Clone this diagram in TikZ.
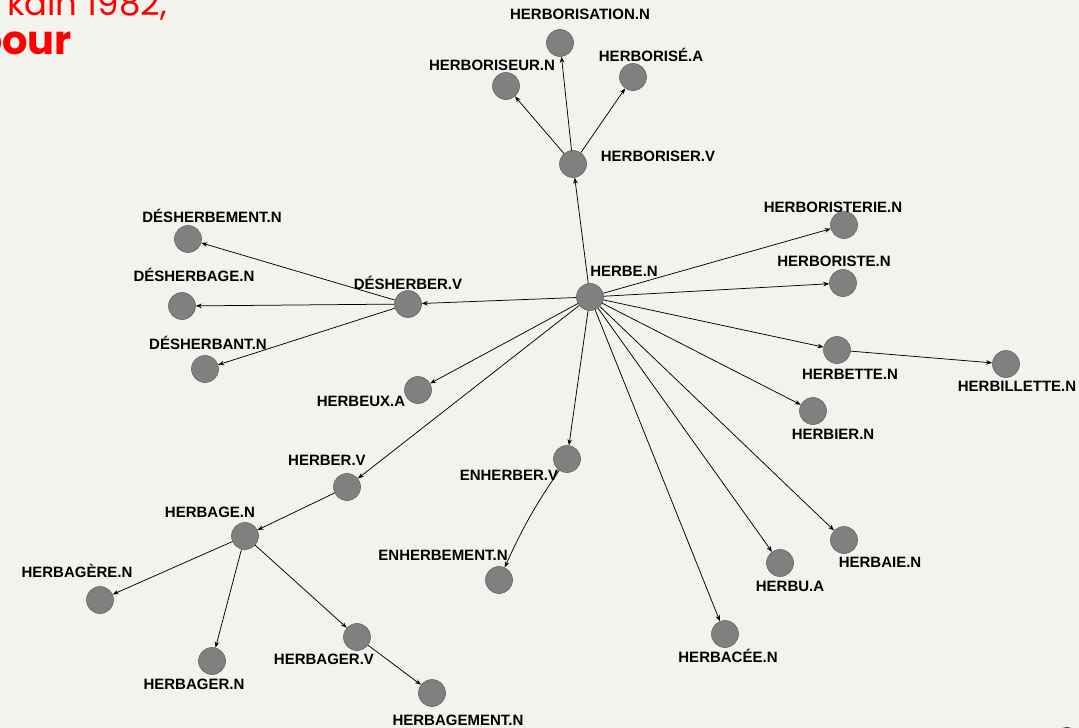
\documentclass[tikz,border=0pt]{standalone}
\usepackage{fontspec}
\setmainfont{Liberation Sans}
\newfontfamily\titolofont{Poppins}
\usetikzlibrary{arrows.meta}
\definecolor{sfondo}{RGB}{243,243,238}
\definecolor{grigionodo}{RGB}{128,128,128}
\definecolor{grigiobordo}{RGB}{100,100,100}
\definecolor{rosso}{RGB}{255,0,0}
\definecolor{blu}{RGB}{40,50,110}
\begin{document}
\begin{tikzpicture}[x=1pt, y=-1pt,
	nodo/.style={circle, fill=grigionodo, draw=grigiobordo, line width=0.6pt, minimum size=27pt, inner sep=0pt},
	etichetta/.style={font=\bfseries\fontsize{15}{17}\selectfont, inner sep=0pt},
	freccia/.style={-{Stealth[length=6pt,width=4.5pt]}, line width=0.75pt}]
		% sfondo e titolo tagliato
		\fill[sfondo] (0,0) rectangle (1079,728);
		\useasboundingbox (0,0) rectangle (1079,728);
		\node[anchor=base east, text=rosso, inner sep=0pt, font=\titolofont\fontsize{34}{40}\selectfont] (titolo) at (167,15) {kdin 1982,};
		\node[anchor=base east, text=rosso, inner sep=0pt, font=\titolofont\bfseries\fontsize{40}{44}\selectfont] (pour) at (72,54) {pour};
		\fill[blu] (1067,736) circle (9);
		% nodi
		\node[nodo] (herbe) at (590,297) {};
		\node[nodo] (herboriser) at (573,164) {};
		\node[nodo] (herborisation) at (560,43) {};
		\node[nodo] (herboriseur) at (506,86) {};
		\node[nodo] (herborise) at (633,77) {};
		\node[nodo] (desherber) at (408,304) {};
		\node[nodo] (desherbement) at (188,239) {};
		\node[nodo] (desherbage) at (182,306) {};
		\node[nodo] (desherbant) at (205,369) {};
		\node[nodo] (herbeux) at (418,390) {};
		\node[nodo] (herber) at (347,487) {};
		\node[nodo] (herbage) at (245,536) {};
		\node[nodo] (herbagere) at (100,600) {};
		\node[nodo] (herbagern) at (212,661) {};
		\node[nodo] (herbagerv) at (357,637) {};
		\node[nodo] (herbagement) at (432,693) {};
		\node[nodo] (enherber) at (567,459) {};
		\node[nodo] (enherbement) at (499,580) {};
		\node[nodo] (herbacee) at (725,634) {};
		\node[nodo] (herbu) at (780,563) {};
		\node[nodo] (herbaie) at (844,540) {};
		\node[nodo] (herbier) at (813,411) {};
		\node[nodo] (herbette) at (837,350) {};
		\node[nodo] (herbillette) at (1006,364) {};
		\node[nodo] (herboriste) at (843,283) {};
		\node[nodo] (herboristerie) at (844,225) {};
		% etichette
		\node[etichetta] (l-herbe) at (624,271) {HERBE.N};
		\node[etichetta] (l-herboriser) at (658,156) {HERBORISER.V};
		\node[etichetta] (l-herborisation) at (580,14) {HERBORISATION.N};
		\node[etichetta] (l-herboriseur) at (492,65) {HERBORISEUR.N};
		\node[etichetta] (l-herborise) at (651,55) {HERBORISÉ.A};
		\node[etichetta] (l-desherber) at (408,283) {DÉSHERBER.V};
		\node[etichetta] (l-desherbement) at (212,216) {DÉSHERBEMENT.N};
		\node[etichetta] (l-desherbage) at (194,275) {DÉSHERBAGE.N};
		\node[etichetta] (l-desherbant) at (208,343) {DÉSHERBANT.N};
		\node[etichetta] (l-herbeux) at (361,401) {HERBEUX.A};
		\node[etichetta] (l-herber) at (327,460) {HERBER.V};
		\node[etichetta] (l-herbage) at (210,512) {HERBAGE.N};
		\node[etichetta] (l-herbagere) at (77,571) {HERBAGÈRE.N};
		\node[etichetta] (l-herbagern) at (194,684) {HERBAGER.N};
		\node[etichetta] (l-herbagerv) at (324,659) {HERBAGER.V};
		\node[etichetta] (l-herbagement) at (458,720) {HERBAGEMENT.N};
		\node[etichetta] (l-enherber) at (509,475) {ENHERBER.V};
		\node[etichetta] (l-enherbement) at (443,555) {ENHERBEMENT.N};
		\node[etichetta] (l-herbacee) at (728,656) {HERBACÉE.N};
		\node[etichetta] (l-herbu) at (790,586) {HERBU.A};
		\node[etichetta] (l-herbaie) at (880,562) {HERBAIE.N};
		\node[etichetta] (l-herbier) at (833,434) {HERBIER.N};
		\node[etichetta] (l-herbette) at (850,374) {HERBETTE.N};
		\node[etichetta] (l-herbillette) at (1017,386) {HERBILLETTE.N};
		\node[etichetta] (l-herboriste) at (834,261) {HERBORISTE.N};
		\node[etichetta] (l-herboristerie) at (833,207) {HERBORISTERIE.N};
		% archi da HERBE.N
		\draw[freccia] (herbe) -- (herboriser);
		\draw[freccia] (herbe) -- (desherber);
		\draw[freccia] (herbe) -- (herbeux);
		\draw[freccia] (herbe) -- (herber);
		\draw[freccia] (herbe) -- (enherber);
		\draw[freccia] (herbe) -- (herbacee);
		\draw[freccia] (herbe) -- (herbu);
		\draw[freccia] (herbe) -- (herbaie);
		\draw[freccia] (herbe) -- (herbier);
		\draw[freccia] (herbe) -- (herbette);
		\draw[freccia] (herbe) -- (herboriste);
		\draw[freccia] (herbe) -- (herboristerie);
		% archi secondari
		\draw[freccia] (herboriser) -- (herborisation);
		\draw[freccia] (herboriser) -- (herboriseur);
		\draw[freccia] (herboriser) -- (herborise);
		\draw[freccia] (desherber) -- (desherbement);
		\draw[freccia] (desherber) -- (desherbage);
		\draw[freccia] (desherber) -- (desherbant);
		\draw[freccia] (herber) -- (herbage);
		\draw[freccia] (herbage) -- (herbagere);
		\draw[freccia] (herbage) -- (herbagern);
		\draw[freccia] (herbage) -- (herbagerv);
		\draw[freccia] (herbagerv) -- (herbagement);
		\draw[freccia] (enherber) to[bend right=5] (enherbement);
		\draw[freccia] (herbette) -- (herbillette);
\end{tikzpicture}
\end{document}
